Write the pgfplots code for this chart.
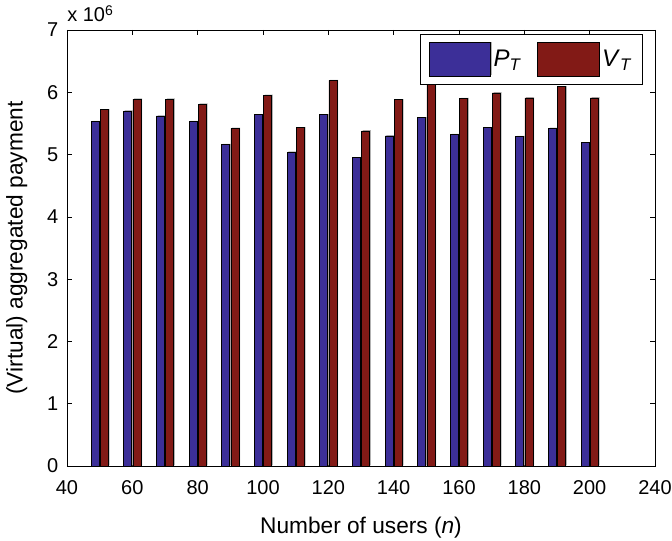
\documentclass[border=0pt]{standalone}
\usepackage{fontspec}
\setmainfont{Liberation Sans}
\usepackage{pgfplots}
\pgfplotsset{compat=1.18}
\definecolor{pblue}{RGB}{60,47,152}
\definecolor{vred}{RGB}{130,26,22}
\begin{document}
\begin{tikzpicture}
\path[use as bounding box] (-50.25pt,-56.25pt) rectangle (453.75pt,349.5pt);
\begin{axis}[
  at={(0pt,0pt)}, anchor=south west,
  scale only axis, width=441pt, height=327pt,
  xmin=40, xmax=220, ymin=0, ymax=7,
  xtick={40,60,...,220},
  xticklabels={40,60,80,100,120,140,160,180,200,240},
  ytick={0,1,...,7},
  tick align=inside, major tick length=4pt,
  tick style={black, line width=0.5pt},
  axis line style={line width=0.6pt},
  /pgf/number format/assume math mode=true,
  ticklabel style={font=\fontsize{15}{18}\selectfont},
  xticklabel style={yshift=-7pt},
  yticklabel style={xshift=-3pt},
  label style={font=\fontsize{17}{20}\selectfont},
  xlabel={Number of users (\textit{n})},
  xlabel style={yshift=-10pt},
  ylabel={(Virtual) aggregated payment},
  ylabel style={yshift=8pt},
  bar width=2.45,
  legend style={at={(1,1)}, xshift=-9pt, yshift=-3pt, anchor=north east, legend columns=2,
    draw=black, line width=0.6pt, inner xsep=6pt, inner ysep=6pt,
    font=\fontsize{18}{20}\selectfont,
    /tikz/every even column/.append style={column sep=10pt}},
  legend image code/.code={\draw[#1,draw=black,line width=0.5pt] (0pt,-12.5pt) rectangle (46pt,12.5pt);},
  clip=false,
]
\addplot[ybar, bar shift=-1.38, fill=pblue, draw=black, line width=0.5pt,
  preaction={fill=black!30, draw=none, transform canvas={xshift=1pt, yshift=0.5pt}}] coordinates {
(50,5.53) (60,5.70) (70,5.62) (80,5.53) (90,5.16) (100,5.64) (110,5.04) (120,5.64)
(130,4.95) (140,5.30) (150,5.59) (160,5.32) (170,5.43) (180,5.29) (190,5.42) (200,5.19)};
\addlegendentry{\textit{P}\textsubscript{\textit{T}}}
\addplot[ybar, bar shift=1.38, fill=vred, draw=black, line width=0.5pt,
  preaction={fill=black!30, draw=none, transform canvas={xshift=1pt, yshift=0.5pt}}] coordinates {
(50,5.72) (60,5.89) (70,5.89) (80,5.81) (90,5.42) (100,5.95) (110,5.43) (120,6.19)
(130,5.38) (140,5.88) (150,6.20) (160,5.90) (170,5.99) (180,5.91) (190,6.09) (200,5.91)};
\addlegendentry{\textit{V}\textsubscript{\textit{T}}}
\end{axis}
\node[anchor=base west, font=\fontsize{15}{18}\selectfont, inner sep=0pt] at (0pt,333pt) {x 10\textsuperscript{6}};
\end{tikzpicture}
\end{document}
